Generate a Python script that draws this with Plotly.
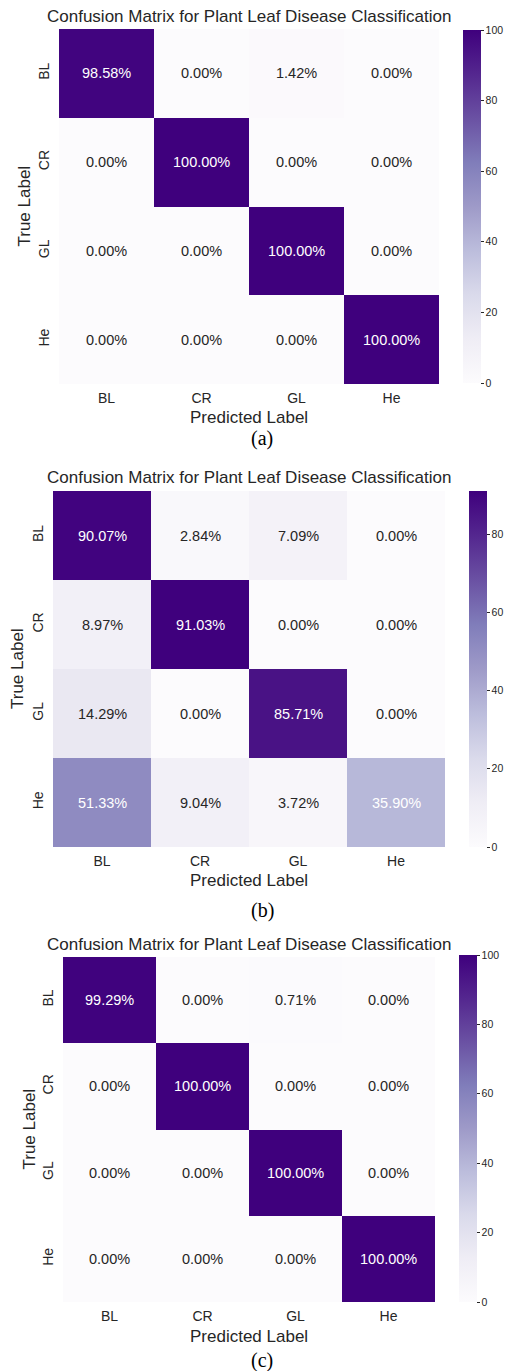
import plotly.graph_objects as go

W, H = 507, 1371

classes = ["BL", "CR", "GL", "He"]
title_text = "Confusion Matrix for Plant Leaf Disease Classification"

# Row = true label, column = predicted label (percent)
cm_a = [[98.58, 0.00, 1.42, 0.00],
        [0.00, 100.00, 0.00, 0.00],
        [0.00, 0.00, 100.00, 0.00],
        [0.00, 0.00, 0.00, 100.00]]
cm_b = [[90.07, 2.84, 7.09, 0.00],
        [8.97, 91.03, 0.00, 0.00],
        [14.29, 0.00, 85.71, 0.00],
        [51.33, 9.04, 3.72, 35.90]]
cm_c = [[99.29, 0.00, 0.71, 0.00],
        [0.00, 100.00, 0.00, 0.00],
        [0.00, 0.00, 100.00, 0.00],
        [0.00, 0.00, 0.00, 100.00]]

captions = ["(a)", "(b)", "(c)"]
cbar_ticks = [0, 20, 40, 60, 80, 100]

TXT = "#262626"
SANS = "Liberation Sans, Arial, sans-serif"
SERIF = "Liberation Serif, Times New Roman, serif"


def px_x(x):
    return x / W


def px_y(y):
    return 1 - y / H


# pixel layout for each panel: heatmap box, colorbar box, text rows
panels = [
    dict(cm=cm_a, box=(59, 439, 29, 384), cb=(463, 30, 383), title_y=17,
         xlab_y=417, cap_y=438, ylab_x=24),
    dict(cm=cm_b, box=(53, 445, 491, 847), cb=(469, 491, 847), title_y=478,
         xlab_y=880, cap_y=910, ylab_x=17),
    dict(cm=cm_c, box=(63, 435, 957, 1302), cb=(459, 955, 1302), title_y=944,
         xlab_y=1336, cap_y=1360, ylab_x=29),
]

fig = go.Figure()
annotations = []
idx = list(range(len(classes)))

for i, p in enumerate(panels):
    sfx = "" if i == 0 else str(i + 1)
    z = p["cm"]
    zmax = max(max(r) for r in z)
    x0, x1, y0, y1 = p["box"]
    cbx, cby0, cby1 = p["cb"]

    fig.add_trace(go.Heatmap(
        z=z, x=idx, y=idx,
        zmin=0, zmax=zmax,
        colorscale="Purples",
        xaxis="x" + sfx, yaxis="y" + sfx,
        hoverinfo="skip",
        colorbar=dict(
            x=px_x(cbx), xanchor="left", xpad=0,
            y=px_y((cby0 + cby1) / 2), yanchor="middle", ypad=0,
            len=(cby1 - cby0) / H, lenmode="fraction",
            thickness=18, thicknessmode="pixels",
            outlinewidth=0,
            tickvals=[t for t in cbar_ticks if t <= zmax],
            ticks="outside", ticklen=3, tickwidth=1, tickcolor=TXT,
            tickfont=dict(family=SANS, size=10.5, color=TXT),
        ),
    ))

    fig.update_layout(**{
        "xaxis" + sfx: dict(
            domain=[px_x(x0), px_x(x1)], anchor="y" + sfx,
            range=[-0.5, 3.5], tickvals=idx, ticktext=classes,
            showgrid=False, zeroline=False, showline=False, ticks="",
            ticklabelstandoff=4,
            tickfont=dict(family=SANS, size=14, color=TXT),
        ),
        "yaxis" + sfx: dict(
            domain=[px_y(y1), px_y(y0)], anchor="x" + sfx,
            range=[3.5, -0.5], tickvals=idx, ticktext=classes,
            showgrid=False, zeroline=False, showline=False, ticks="",
            tickangle=-90, ticklabelstandoff=6,
            tickfont=dict(family=SANS, size=14, color=TXT),
        ),
    })

    # cell values
    for r in range(len(classes)):
        for c in range(len(classes)):
            v = z[r][c]
            color = "white" if v / zmax > 0.35 else TXT
            annotations.append(dict(
                x=c, y=r, xref="x" + sfx, yref="y" + sfx,
                text=f"{v:.2f}%", showarrow=False,
                font=dict(family=SANS, size=14.5, color=color),
            ))

    cx = (x0 + x1) / 2
    annotations += [
        dict(x=px_x(cx), y=px_y(p["title_y"]), xref="paper", yref="paper",
             text=title_text, showarrow=False, xanchor="center", yanchor="middle",
             font=dict(family=SANS, size=17, color=TXT)),
        dict(x=px_x(cx), y=px_y(p["xlab_y"]), xref="paper", yref="paper",
             text="Predicted Label", showarrow=False, xanchor="center", yanchor="middle",
             font=dict(family=SANS, size=17, color=TXT)),
        dict(x=px_x(p["ylab_x"]), y=px_y((y0 + y1) / 2), xref="paper", yref="paper",
             text="True Label", showarrow=False, textangle=-90,
             xanchor="center", yanchor="middle",
             font=dict(family=SANS, size=17, color=TXT)),
        dict(x=px_x(262), y=px_y(p["cap_y"]), xref="paper", yref="paper",
             text=captions[i], showarrow=False, xanchor="center", yanchor="middle",
             font=dict(family=SERIF, size=20, color="black")),
    ]

fig.update_layout(
    width=W, height=H,
    margin=dict(l=0, r=0, t=0, b=0),
    paper_bgcolor="white", plot_bgcolor="white",
    annotations=annotations,
    showlegend=False,
)

fig.write_html("out.html")
